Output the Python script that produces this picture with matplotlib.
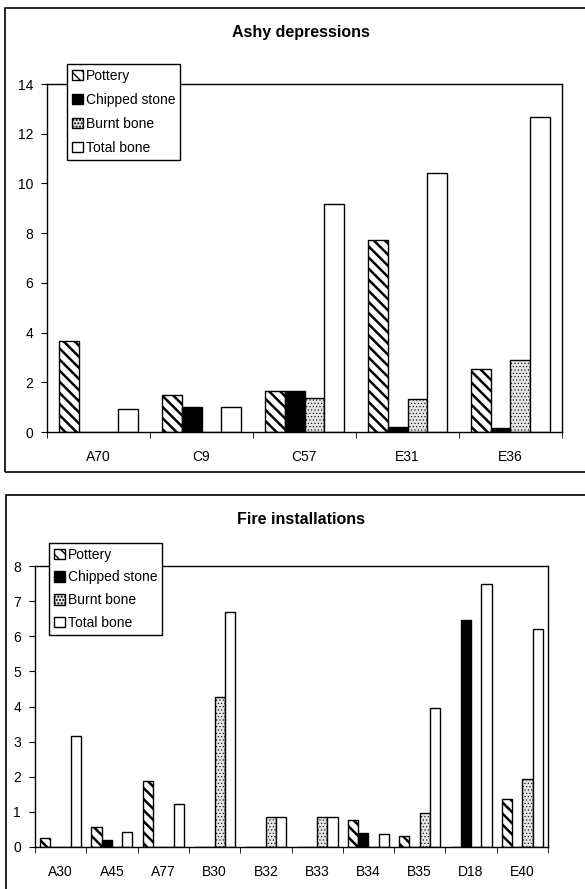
import numpy as np
import matplotlib
matplotlib.use("Agg")
from matplotlib import pyplot as plt
from matplotlib.patches import Rectangle

plt.rcParams['font.family'] = ['Liberation Sans', 'DejaVu Sans']

series_names = ["Pottery", "Chipped stone", "Burnt bone", "Total bone"]

# ashy depressions
ashy_sites = ["A70", "C9", "C57", "E31", "E36"]
ashy_pottery = [3.65, 1.47, 1.66, 7.72, 2.54]
ashy_chipped = [0.0, 1.02, 1.66, 0.22, 0.18]
ashy_burnt = [0.0, 0.0, 1.35, 1.32, 2.88]
ashy_total = [0.94, 1.02, 9.18, 10.43, 12.68]

# fire installations
fire_sites = ["A30", "A45", "A77", "B30", "B32", "B33", "B34", "B35", "D18", "E40"]
fire_pottery = [0.26, 0.57, 1.87, 0.0, 0.0, 0.0, 0.78, 0.30, 0.0, 1.38]
fire_chipped = [0.0, 0.19, 0.0, 0.0, 0.0, 0.0, 0.39, 0.0, 6.47, 0.0]
fire_burnt = [0.0, 0.0, 0.0, 4.28, 0.84, 0.85, 0.0, 0.98, 0.0, 1.93]
fire_total = [3.17, 0.42, 1.23, 6.70, 0.84, 0.85, 0.37, 3.95, 7.48, 6.22]

W, H = 585, 889
fig = plt.figure(figsize=(W / 100, H / 100), dpi=100)

# style of each series: (facecolor, hatch, hatch linewidth)
styles = [
    ("white", "\\\\\\", 1.8),
    ("black", None, 1.0),
    ("#e4e4e4", ".....", 0.4),
    ("white", None, 1.0),
]


def draw_panel(rect, sites, values, ymax, ystep, bw, title, title_y,
               legend_xy, spacing):
    ax = fig.add_axes(rect)
    x = np.arange(len(sites))
    n = len(values)
    for i, (vals, name) in enumerate(zip(values, series_names)):
        fc, hatch, hlw = styles[i]
        offs = (i - (n - 1) / 2) * bw
        with plt.rc_context({'hatch.linewidth': hlw}):
            ax.bar(x + offs, vals, width=bw, facecolor=fc, edgecolor="black",
                   linewidth=1.0, hatch=hatch, label=name)
    ax.set_xlim(-0.5, len(sites) - 0.5)
    ax.set_ylim(0, ymax)
    ax.set_yticks(np.arange(0, ymax + 0.01, ystep))
    ax.set_xticks(x)
    ax.set_xticklabels(sites)
    ax.set_xticks(np.arange(len(sites) + 1) - 0.5, minor=True)
    ax.tick_params(axis='x', which='major', length=0, pad=13, labelsize=10)
    ax.tick_params(axis='x', which='minor', length=4, direction='out')
    ax.tick_params(axis='y', length=4, direction='out', labelsize=10, pad=6)
    for s in ax.spines.values():
        s.set_linewidth(1.0)
    fig.text(0.515, title_y, title, ha='center', va='center',
             fontsize=11.5, fontweight='bold')
    leg = ax.legend(loc='upper left', bbox_to_anchor=legend_xy,
                    bbox_transform=fig.transFigure, fontsize=10,
                    handlelength=0.8, handleheight=0.8, handletextpad=0.2,
                    labelspacing=spacing, borderpad=0.35, borderaxespad=0,
                    fancybox=False, framealpha=1)
    leg.get_frame().set_edgecolor("black")
    leg.get_frame().set_linewidth(1.0)
    return ax


draw_panel([47 / W, 1 - 432 / H, 515 / W, 348 / H], ashy_sites,
           [ashy_pottery, ashy_chipped, ashy_burnt, ashy_total],
           14, 2, 0.19, "Ashy depressions", 1 - 33 / H, (67 / W, 1 - 64 / H),
           0.72)

draw_panel([35 / W, 1 - 847 / H, 513 / W, 281 / H], fire_sites,
           [fire_pottery, fire_chipped, fire_burnt, fire_total],
           8, 1, 0.2, "Fire installations", 1 - 519 / H, (49 / W, 1 - 543 / H),
           0.62)

# outer frames around the two charts
fig.patches.append(Rectangle((5 / W, 1 - 472 / H), 600 / W, 464 / H,
                             transform=fig.transFigure, fill=False,
                             edgecolor="black", linewidth=1.2))
fig.patches.append(Rectangle((6 / W, -0.05), 600 / W, 1 - 495 / H + 0.05,
                             transform=fig.transFigure, fill=False,
                             edgecolor="black", linewidth=1.2))

fig.savefig("out.png", dpi=100)
